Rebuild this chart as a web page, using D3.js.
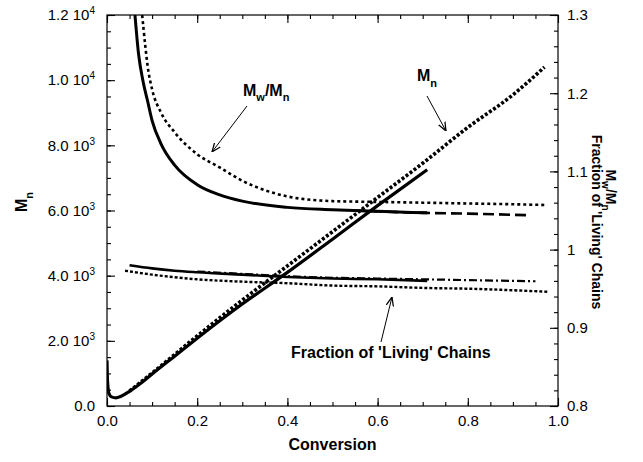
<!DOCTYPE html>
<html><head><meta charset="utf-8">
<script src="https://cdn.jsdelivr.net/npm/d3@7"></script>
<style>
body{margin:0;background:#fff}
text{font-family:"Liberation Sans",Arial,Helvetica,sans-serif;fill:#000}
</style>
</head><body>
<svg id="chart" width="643" height="462"></svg>
<script>
// ---- data ----
const mnSolidX = [0, 0.001, 0.004, 0.01, 0.02, 0.03, 0.05, 0.08, 0.1, 0.15, 0.2, 0.3, 0.4, 0.5, 0.6, 0.71];
const mnSolidY = [1400, 800, 400, 280, 250, 290, 450, 750, 980, 1530, 2080, 3130, 4100, 5120, 6150, 7250];
const mnDotX = [0.05, 0.1, 0.2, 0.3, 0.4, 0.5, 0.6, 0.7, 0.8, 0.9, 0.97];
const mnDotY = [460, 1010, 2150, 3250, 4300, 5350, 6400, 7450, 8550, 9550, 10400];

const pdiSolidX = [0.062, 0.07, 0.08, 0.09, 0.1, 0.12, 0.15, 0.2, 0.25, 0.3, 0.4, 0.5, 0.6, 0.71];
const pdiSolidY = [1.30, 1.25, 1.215, 1.19, 1.165, 1.135, 1.108, 1.083, 1.070, 1.062, 1.054, 1.051, 1.049, 1.047];
const pdiDashX = [0.55, 0.7, 0.8, 0.93];
const pdiDashY = [1.050, 1.047, 1.046, 1.044];
const pdiDotX = [0.078, 0.085, 0.09, 0.1, 0.12, 0.15, 0.2, 0.25, 0.3, 0.35, 0.4, 0.5, 0.6, 0.7, 0.8, 0.9, 0.975];
const pdiDotY = [1.30, 1.26, 1.235, 1.205, 1.175, 1.15, 1.122, 1.105, 1.088, 1.076, 1.068, 1.062, 1.061, 1.060, 1.059, 1.058, 1.057];

const livSolidX = [0.05, 0.1, 0.15, 0.2, 0.3, 0.4, 0.5, 0.6, 0.71];
const livSolidY = [0.980, 0.976, 0.973, 0.971, 0.968, 0.965, 0.963, 0.962, 0.960];
const livDashDotX = [0.2, 0.3, 0.4, 0.5, 0.6, 0.7, 0.8, 0.9, 0.95];
const livDashDotY = [0.972, 0.969, 0.966, 0.964, 0.963, 0.962, 0.961, 0.960, 0.9595];
const livDotX = [0.04, 0.1, 0.2, 0.3, 0.4, 0.5, 0.6, 0.7, 0.8, 0.9, 0.98];
const livDotY = [0.973, 0.968, 0.962, 0.959, 0.957, 0.954, 0.953, 0.951, 0.950, 0.948, 0.946];

const xTicks = [0, 0.2, 0.4, 0.6, 0.8, 1.0];
const yLeftTicks = [0, 2000, 4000, 6000, 8000, 10000, 12000];
const yRightTicks = [0.8, 0.9, 1.0, 1.1, 1.2, 1.3];

// ---- layout ----
const L = 107, R = 558, T = 15, B = 406;
const svg = d3.select("#chart");
const x = d3.scaleLinear().domain([0, 1]).range([L, R]);
const yL = d3.scaleLinear().domain([0, 12000]).range([B, T]);
const yR = d3.scaleLinear().domain([0.8, 1.3]).range([B, T]);

const FS = 15;

svg.append("rect").attr("x", L).attr("y", T).attr("width", R - L).attr("height", B - T)
  .attr("fill", "none").attr("stroke", "#000").attr("stroke-width", 1.2);

function styleAxis(g) {
  g.select(".domain").remove();
  g.selectAll(".tick line").attr("stroke", "#000").attr("stroke-width", 1.1);
  g.selectAll("text").style("font-size", FS + "px").attr("fill", "#000");
}

const xMinor = d3.range(0, 1.0001, 0.05);
const yLMinor = d3.range(0, 12001, 500);
const yRMinor = d3.range(0.8, 1.3001, 0.02);

svg.append("g").attr("transform", `translate(0,${B})`)
  .call(d3.axisBottom(x).tickValues(xMinor).tickSize(-4).tickFormat("")).call(styleAxis);
svg.append("g").attr("transform", `translate(0,${B})`)
  .call(d3.axisBottom(x).tickValues(xTicks).tickSize(-8).tickPadding(9).tickFormat(d3.format(".1f"))).call(styleAxis);
svg.append("g").attr("transform", `translate(0,${T})`)
  .call(d3.axisTop(x).tickValues(xMinor).tickSize(-4).tickFormat("")).call(styleAxis);
svg.append("g").attr("transform", `translate(0,${T})`)
  .call(d3.axisTop(x).tickValues(xTicks).tickSize(-8).tickFormat("")).call(styleAxis);
svg.append("g").attr("transform", `translate(${L},0)`)
  .call(d3.axisLeft(yL).tickValues(yLMinor).tickSize(-4).tickFormat("")).call(styleAxis);
const gl = svg.append("g").attr("transform", `translate(${L},0)`)
  .call(d3.axisLeft(yL).tickValues(yLeftTicks).tickSize(-8).tickPadding(12).tickFormat("")).call(styleAxis);
gl.selectAll(".tick text").each(function(d) {
  const t = d3.select(this).text(null);
  if (d === 0) { t.text("0.0"); return; }
  const e = Math.floor(Math.log10(d));
  const m = d / Math.pow(10, e);
  t.append("tspan").text(d3.format(".1f")(m) + " 10");
  t.append("tspan").attr("dy", "-6").style("font-size", "10px").text(e);
});
svg.append("g").attr("transform", `translate(${R},0)`)
  .call(d3.axisRight(yR).tickValues(yRMinor).tickSize(-4).tickFormat("")).call(styleAxis);
svg.append("g").attr("transform", `translate(${R},0)`)
  .call(d3.axisRight(yR).tickValues(yRightTicks).tickSize(-8).tickPadding(9).tickFormat(d3.format("~g"))).call(styleAxis);

// ---- series ----
const plot = svg.append("g");
plot.append("clipPath").attr("id", "clip").append("rect")
  .attr("x", L).attr("y", T).attr("width", R - L).attr("height", B - T);
plot.attr("clip-path", "url(#clip)");
function drawSeries(xs, ys, yScale, width, dash) {
  const pts = xs.map((v, i) => [v, ys[i]]);
  const line = d3.line().x(d => x(d[0])).y(d => yScale(d[1])).curve(d3.curveMonotoneX);
  plot.append("path").datum(pts).attr("d", line)
    .attr("fill", "none").attr("stroke", "#000").attr("stroke-width", width)
    .attr("stroke-dasharray", dash || null);
}

drawSeries(mnSolidX, mnSolidY, yL, 3.2);
drawSeries(mnDotX, mnDotY, yL, 3.6, "3,2");
drawSeries(pdiSolidX, pdiSolidY, yR, 3);
drawSeries(pdiDashX, pdiDashY, yR, 2.6, "11,5");
drawSeries(pdiDotX, pdiDotY, yR, 2.6, "3,3");
drawSeries(livSolidX, livSolidY, yR, 2.6);
drawSeries(livDashDotX, livDashDotY, yR, 2.2, "8,3,2,3");
drawSeries(livDotX, livDotY, yR, 2.4, "3,2");

// ---- annotations ----
svg.append("defs").append("marker").attr("id", "arr").attr("viewBox", "0 0 10 10")
  .attr("refX", 10).attr("refY", 5).attr("markerWidth", 9).attr("markerHeight", 9)
  .attr("orient", "auto").attr("markerUnits", "userSpaceOnUse")
  .append("path").attr("d", "M0,1 L10,5 L0,9").attr("fill", "none").attr("stroke", "#000").attr("stroke-width", 1.4);

function arrow(x1, y1, x2, y2) {
  svg.append("line").attr("x1", x1).attr("y1", y1).attr("x2", x2).attr("y2", y2)
    .attr("stroke", "#000").attr("stroke-width", 1).attr("marker-end", "url(#arr)");
}
function subLabel(g, parts, size) {
  const t = g.append("text").style("font-size", (size || 16) + "px").style("font-weight", "bold");
  parts.forEach(p => {
    t.append("tspan").attr("dy", p[1] || 0).style("font-size", p[2] || null).text(p[0]);
  });
  return t;
}

subLabel(svg.append("g").attr("transform", "translate(243,96)"),
  [["M"], ["w", 5, "11px"], ["/M", -5], ["n", 5, "11px"]]);
arrow(247, 106, 212, 152);

subLabel(svg.append("g").attr("transform", "translate(417,81)"),
  [["M"], ["n", 6, "11px"]]);
arrow(427, 96, 446, 131);

svg.append("text").attr("x", 291).attr("y", 358).style("font-size", "16px").style("font-weight", "bold")
  .text("Fraction of 'Living' Chains");
arrow(381, 342, 392, 297);

svg.append("text").attr("x", (L + R) / 2).attr("y", 450).attr("text-anchor", "middle")
  .style("font-size", "16px").style("font-weight", "bold").text("Conversion");

subLabel(svg.append("g").attr("transform", "translate(27,212) rotate(-90)"),
  [["M"], ["n", 6, "11px"]]).attr("text-anchor", "start");

const rg1 = svg.append("g").attr("transform", "translate(606,190) rotate(90)");
subLabel(rg1, [["M"], ["w", 4, "10px"], ["/M", -4], ["n", 4, "10px"]], 14).attr("text-anchor", "middle");
const rg2 = svg.append("g").attr("transform", "translate(592,222) rotate(90)");
rg2.append("text").attr("text-anchor", "middle")
  .style("font-size", "14px").style("font-weight", "bold").text("Fraction of 'Living' Chains");
</script>
</body></html>
